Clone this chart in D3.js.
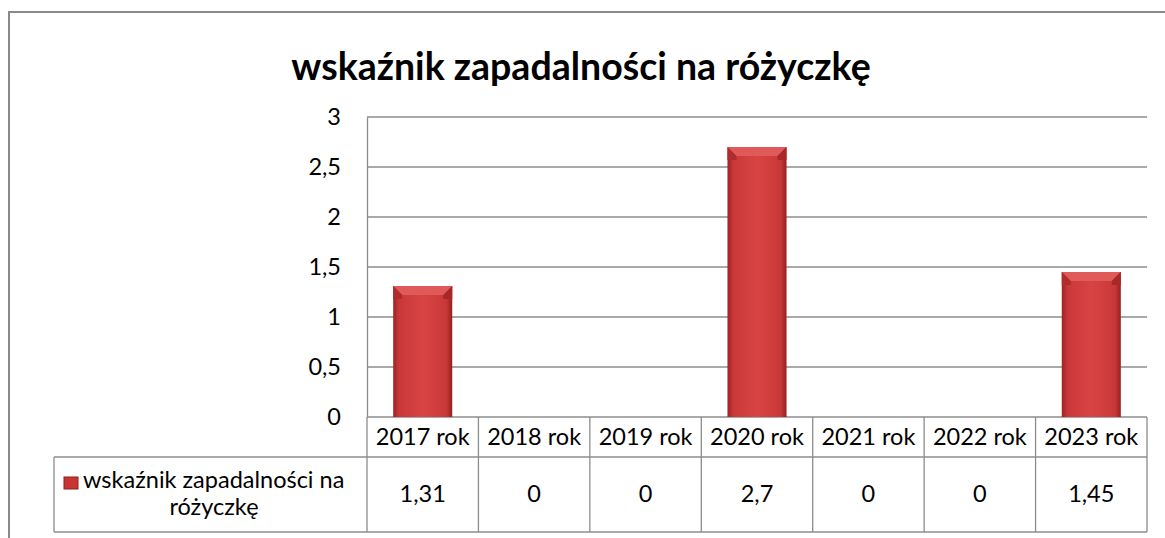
<!DOCTYPE html>
<html>
<head>
<meta charset="utf-8">
<script src="https://cdn.jsdelivr.net/npm/d3@7"></script>
<style>
  html, body { margin: 0; padding: 0; background: #fff; overflow: hidden; }
  svg text { font-family: Lato, "Open Sans", sans-serif; fill: #000; }
</style>
</head>
<body>
<div id="chart"></div>
<script>
const title = 'wskaźnik zapadalności na różyczkę'
const categories = ['2017 rok', '2018 rok', '2019 rok', '2020 rok', '2021 rok', '2022 rok', '2023 rok']
const values = [1.31, 0, 0, 2.7, 0, 0, 1.45]
const valueLabels = ['1,31', '0', '0', '2,7', '0', '0', '1,45']
const yTicks = [0, 0.5, 1, 1.5, 2, 2.5, 3]
const yTickLabels = ['0', '0,5', '1', '1,5', '2', '2,5', '3']
const seriesName = ['wskaźnik zapadalności na', 'różyczkę']

const width = 1165
const height = 538
const plotLeft = 367
const plotRight = 1147
const plotTop = 117
const plotBottom = 417
const catRowBottom = 457
const tableBottom = 532
const legendLeft = 54
const lineColor = '#8c8c8c'
const fontSize = 23.5

const svg = d3.select('#chart')
              .append('svg')
              .attr('width', width)
              .attr('height', height)

const defs = svg.append('defs')
const grad = defs.append('linearGradient')
                 .attr('id', 'barGrad')
                 .attr('x1', 0).attr('x2', 1).attr('y1', 0).attr('y2', 0)
grad.append('stop').attr('offset', '0%').attr('stop-color', '#9e2323')
grad.append('stop').attr('offset', '10%').attr('stop-color', '#c93838')
grad.append('stop').attr('offset', '50%').attr('stop-color', '#d84444')
grad.append('stop').attr('offset', '90%').attr('stop-color', '#c93838')
grad.append('stop').attr('offset', '100%').attr('stop-color', '#971f1f')

// outer chart border
svg.append('rect')
   .attr('x', 9).attr('y', 12)
   .attr('width', 1300).attr('height', 700)
   .attr('fill', 'none')
   .attr('stroke', '#8a8a8a')
   .attr('stroke-width', 2)

svg.append('text')
   .attr('x', 581)
   .attr('y', 80)
   .attr('text-anchor', 'middle')
   .attr('font-size', 37.5)
   .attr('font-weight', 'bold')
   .text(title)

const x = d3.scaleBand()
            .domain(categories)
            .range([plotLeft, plotRight])
            .paddingInner(0)
            .paddingOuter(0)

const y = d3.scaleLinear()
            .domain([0, 3])
            .range([plotBottom, plotTop])

// gridlines
svg.append('g')
   .selectAll('line')
   .data(yTicks)
   .enter().append('line')
   .attr('x1', plotLeft).attr('x2', plotRight)
   .attr('y1', d => y(d)).attr('y2', d => y(d))
   .attr('stroke', lineColor)
   .attr('stroke-width', 1.3)

// y axis
const yAxis = svg.append('g')
   .attr('transform', `translate(${plotLeft}, 0)`)
   .call(d3.axisLeft(y).tickValues(yTicks).tickSize(0).tickPadding(26)
           .tickFormat((d, i) => yTickLabels[i]))
yAxis.select('.domain').attr('stroke', lineColor).attr('stroke-width', 1.3)
yAxis.selectAll('.tick text')
     .attr('font-size', fontSize)
     .attr('font-family', 'Lato, sans-serif')

// bars
const barW = x.bandwidth() * 0.53
const bars = svg.append('g')
                .selectAll('g')
                .data(values.map((v, i) => ({ cat: categories[i], v })).filter(d => d.v > 0))
                .enter().append('g')
                .attr('transform', d => `translate(${x(d.cat) + (x.bandwidth() - barW) / 2}, 0)`)

bars.append('rect')
    .attr('x', 0)
    .attr('y', d => y(d.v))
    .attr('width', barW)
    .attr('height', d => y(0) - y(d.v))
    .attr('fill', 'url(#barGrad)')

// top bevel
bars.append('path')
    .attr('d', d => {
      const t = y(d.v), b = 9
      return `M0,${t} L${barW},${t} L${barW - b},${t + b} L${b},${t + b} Z`
    })
    .attr('fill', '#e05a5a')
bars.append('path')
    .attr('d', d => {
      const t = y(d.v), b = 9
      return `M0,${t} L${b},${t + b} L${b},${t + b + 4} L0,${t + b + 4} Z`
    })
    .attr('fill', '#b02b2b')
bars.append('path')
    .attr('d', d => {
      const t = y(d.v), b = 9
      return `M${barW},${t} L${barW - b},${t + b} L${barW - b},${t + b + 4} L${barW},${t + b + 4} Z`
    })
    .attr('fill', '#a82727')

// data table
const table = svg.append('g')
const vLines = categories.map(c => x(c)).concat([plotRight])
table.selectAll('.vline')
     .data(vLines)
     .enter().append('line')
     .attr('class', 'vline')
     .attr('x1', d => d).attr('x2', d => d)
     .attr('y1', plotBottom).attr('y2', tableBottom)
     .attr('stroke', lineColor).attr('stroke-width', 1.3)
table.selectAll('.hline')
     .data([catRowBottom, tableBottom])
     .enter().append('line')
     .attr('class', 'hline')
     .attr('x1', legendLeft).attr('x2', plotRight)
     .attr('y1', d => d).attr('y2', d => d)
     .attr('stroke', lineColor).attr('stroke-width', 1.3)
table.append('line')
     .attr('x1', legendLeft).attr('x2', legendLeft)
     .attr('y1', catRowBottom).attr('y2', tableBottom)
     .attr('stroke', lineColor).attr('stroke-width', 1.3)

table.selectAll('.cat')
     .data(categories)
     .enter().append('text')
     .attr('class', 'cat')
     .attr('x', d => x(d) + x.bandwidth() / 2)
     .attr('y', 445)
     .attr('text-anchor', 'middle')
     .attr('font-size', fontSize)
     .text(d => d)

table.selectAll('.val')
     .data(valueLabels)
     .enter().append('text')
     .attr('class', 'val')
     .attr('x', (d, i) => x(categories[i]) + x.bandwidth() / 2)
     .attr('y', 502)
     .attr('text-anchor', 'middle')
     .attr('font-size', fontSize)
     .text(d => d)

// legend key and series name
table.append('rect')
     .attr('x', 64).attr('y', 477)
     .attr('width', 14).attr('height', 12)
     .attr('fill', '#c83434')
     .attr('stroke', '#8f1f1f').attr('stroke-width', 1)
table.selectAll('.leg')
     .data(seriesName)
     .enter().append('text')
     .attr('class', 'leg')
     .attr('x', (d, i) => i === 0 ? 83 : 214)
     .attr('y', (d, i) => 488 + i * 27)
     .attr('text-anchor', (d, i) => i === 0 ? 'start' : 'middle')
     .attr('font-size', fontSize)
     .text(d => d)
</script>
</body>
</html>
